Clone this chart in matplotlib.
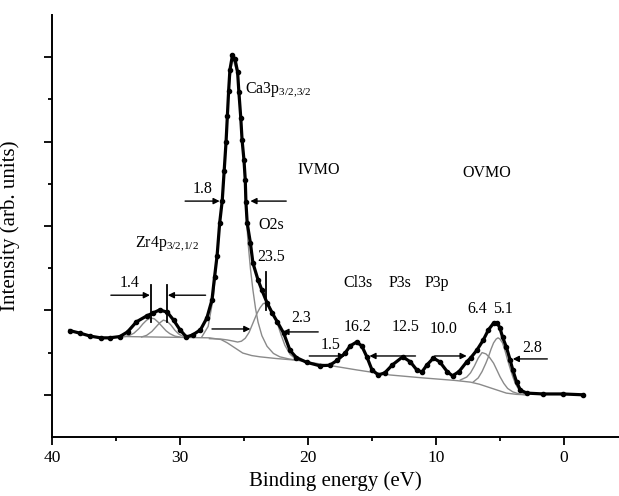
import matplotlib
matplotlib.use("Agg")
import matplotlib.pyplot as plt
from matplotlib.ticker import MultipleLocator

plt.rcParams['font.family'] = ['Liberation Serif', 'DejaVu Serif']
plt.rcParams['mathtext.fontset'] = 'custom'
plt.rcParams['mathtext.rm'] = 'Liberation Serif'
plt.rcParams['mathtext.it'] = 'Liberation Serif'

# ---- data (binding energy in eV, intensity in arb. units) ----
data_x = [38.6, 37.8, 37.0, 36.2, 35.5, 34.7, 34.1, 33.4, 32.6, 32.1, 31.6, 31.0, 30.5,
          30.0, 29.5, 29.0, 28.4, 27.9, 27.5, 27.3, 27.1, 26.9, 26.7, 26.55, 26.4, 26.3,
          26.2, 26.1, 25.9, 25.7, 25.5, 25.4, 25.25, 25.15, 25.0, 24.9, 24.85, 24.75, 24.5,
          24.3, 23.9, 23.6, 23.2, 22.8, 22.4, 21.9, 21.4, 20.9, 20.1, 19.1, 18.3, 17.7,
          17.1, 16.7, 16.2, 15.8, 15.4, 15.0, 14.5, 14.0, 13.4, 12.6, 12.0, 11.5, 11.1,
          10.7, 10.2, 9.7, 9.1, 8.7, 8.2, 7.6, 7.3, 6.8, 6.3, 5.9, 5.5, 5.2, 5.0, 4.8,
          4.5, 4.2, 4.0, 3.7, 3.4, 2.9, 1.6, 0.1, -1.5]
data_y = [2.52, 2.46, 2.39, 2.35, 2.35, 2.38, 2.49, 2.73, 2.87, 2.94, 3.01, 2.96, 2.77,
          2.54, 2.37, 2.42, 2.54, 2.82, 3.25, 3.79, 4.30, 5.07, 5.60, 6.30, 7.00, 7.60,
          8.20, 8.70, 9.05, 8.95, 8.65, 8.18, 7.56, 7.04, 6.56, 6.09, 5.57, 5.07, 4.60,
          4.12, 3.72, 3.48, 3.18, 2.94, 2.73, 2.46, 2.05, 1.88, 1.77, 1.69, 1.70, 1.82,
          1.99, 2.16, 2.25, 2.16, 1.90, 1.59, 1.47, 1.52, 1.71, 1.90, 1.78, 1.59, 1.54,
          1.71, 1.87, 1.78, 1.54, 1.45, 1.55, 1.78, 1.87, 2.06, 2.30, 2.54, 2.70, 2.70, 2.58,
          2.37, 2.13, 1.82, 1.59, 1.30, 1.11, 1.04, 1.02, 1.02, 1.00]

bg_x = [34.3, 27.7, 26.8, 26.3, 25.7, 25.1, 24.4, 23.75, 22.5, 20.9, 18.0, 16.2, 13.6,
        11.0, 8.5, 7.3, 6.6, 6.0, 5.2, 4.5, 3.7, 2.9]
bg_y = [2.38, 2.35, 2.31, 2.23, 2.11, 1.99, 1.93, 1.90, 1.86, 1.82, 1.68, 1.59, 1.47,
        1.40, 1.34, 1.30, 1.25, 1.19, 1.11, 1.04, 1.01, 1.00]

zr1_x = [34.5, 34.0, 33.6, 33.2, 32.9, 32.6, 32.3, 32.0, 31.7, 31.4, 31.1, 30.8, 30.4, 30.0]
zr1_y = [2.37, 2.40, 2.46, 2.57, 2.68, 2.77, 2.82, 2.80, 2.72, 2.62, 2.52, 2.45, 2.39, 2.37]
zr2_x = [33.0, 32.6, 32.2, 31.9, 31.6, 31.3, 31.0, 30.7, 30.4, 30.1, 29.8, 29.4]
zr2_y = [2.37, 2.41, 2.50, 2.60, 2.70, 2.77, 2.74, 2.65, 2.53, 2.44, 2.39, 2.37]

ca_x = [28.3, 27.8, 27.4, 27.1, 26.9, 26.7, 26.55, 26.4, 26.2, 25.9, 25.5, 25.25, 25.0,
        24.85, 24.7, 24.5, 24.3, 24.1, 23.9, 23.6, 23.2, 22.7, 22.2, 21.5, 20.9]
ca_y = [2.37, 2.62, 3.30, 4.30, 5.07, 5.60, 6.30, 7.00, 8.20, 9.00, 8.60, 7.50, 6.50,
        5.50, 4.67, 4.00, 3.48, 3.05, 2.72, 2.40, 2.15, 1.98, 1.90, 1.85, 1.82]

o2s_x = [27.7, 26.8, 26.3, 25.8, 25.5, 25.2, 24.9, 24.6, 24.3, 24.0, 23.75, 23.5, 23.3,
         23.0, 22.7, 22.4, 22.1, 21.8, 21.4, 21.0, 20.5]
o2s_y = [2.33, 2.32, 2.30, 2.27, 2.25, 2.27, 2.34, 2.48, 2.70, 2.92, 3.06, 3.16, 3.18,
         3.10, 2.93, 2.70, 2.42, 2.17, 1.96, 1.86, 1.83]

ov1_x = [8.1, 7.6, 7.3, 7.0, 6.7, 6.4, 6.1, 5.8, 5.5, 5.2, 5.0, 4.7, 4.4, 4.0, 3.5, 3.0]
ov1_y = [1.35, 1.42, 1.52, 1.68, 1.87, 2.00, 1.97, 1.88, 1.75, 1.56, 1.43, 1.27, 1.15,
         1.07, 1.02, 1.00]
ov2_x = [7.1, 6.7, 6.4, 6.1, 5.9, 5.7, 5.5, 5.3, 5.15, 5.0, 4.8, 4.6, 4.4, 4.2, 4.0, 3.8,
         3.6, 3.3, 2.9]
ov2_y = [1.30, 1.40, 1.55, 1.75, 1.90, 2.08, 2.23, 2.32, 2.35, 2.32, 2.23, 2.04, 1.82,
         1.62, 1.43, 1.27, 1.16, 1.05, 1.00]

x_ticks = [40, 30, 20, 10, 0]
x_ticklabels = ['40', '30', '20', '10', '0']

# ---- figure ----
fig = plt.figure(figsize=(6.19, 4.96), dpi=100)
ax = fig.add_axes([52 / 619, 59 / 496, (619 - 52) / 619, (437 - 15) / 496])

gray = '#8a8a8a'
for cx, cy in [(bg_x, bg_y), (zr1_x, zr1_y), (zr2_x, zr2_y), (ca_x, ca_y),
               (o2s_x, o2s_y), (ov1_x, ov1_y), (ov2_x, ov2_y)]:
    ax.plot(cx, cy, color=gray, lw=1.0, zorder=2)

ax.plot(data_x, data_y, color='black', lw=2.3, marker='o', ms=3.0, zorder=3)

ax.set_xlim(40, -4.3)
ax.set_ylim(0, 10)
ax.spines['top'].set_visible(False)
ax.spines['right'].set_visible(False)
ax.spines['left'].set_linewidth(1.4)
ax.spines['bottom'].set_linewidth(1.4)

ax.set_xticks(x_ticks)
ax.set_xticklabels(x_ticklabels)
ax.xaxis.set_minor_locator(MultipleLocator(5))
ax.set_yticks([1, 3, 5, 7, 9])
ax.set_yticks([2, 4, 6, 8], minor=True)
ax.set_yticklabels([])
ax.tick_params(axis='both', which='major', direction='out', length=6, width=1.3,
               labelsize=12.5, pad=3)
ax.tick_params(axis='both', which='minor', direction='out', length=3, width=1.3)

ax.set_xlabel('Binding energy (eV)', fontsize=15, labelpad=4)
ax.set_ylabel('Intensity (arb. units)', fontsize=15, labelpad=14)

fs = 11.5
ax.text(24.9, 8.15, r'Ca3p$_{\mathrm{3/2{,}3/2}}$', fontsize=fs, ha='left', va='baseline')
ax.text(33.5, 4.5, r'Zr4p$_{\mathrm{3/2{,}1/2}}$', fontsize=fs, ha='left', va='baseline')
ax.text(20.86, 6.33, 'IVMO', fontsize=fs, ha='left', va='center')
ax.text(7.9, 6.26, 'OVMO', fontsize=fs, ha='left', va='center')
ax.text(28.2, 5.88, '1.8', fontsize=fs, ha='center', va='center')
ax.text(22.9, 5.02, 'O2s', fontsize=fs, ha='center', va='center')
ax.text(22.9, 4.27, '23.5', fontsize=fs, ha='center', va='center')
ax.text(33.9, 3.65, '1.4', fontsize=fs, ha='center', va='center')
ax.text(20.5, 2.82, '2.3', fontsize=fs, ha='center', va='center')
ax.text(18.2, 2.18, '1.5', fontsize=fs, ha='center', va='center')
ax.text(16.1, 2.60, '16.2', fontsize=fs, ha='center', va='center')
ax.text(12.4, 2.60, '12.5', fontsize=fs, ha='center', va='center')
ax.text(9.4, 2.56, '10.0', fontsize=fs, ha='center', va='center')
ax.text(16.1, 3.55, 'Cl3s', fontsize=fs, ha='center', va='baseline')
ax.text(12.8, 3.55, 'P3s', fontsize=fs, ha='center', va='baseline')
ax.text(9.9, 3.55, 'P3p', fontsize=fs, ha='center', va='baseline')
ax.text(6.8, 3.03, '6.4', fontsize=fs, ha='center', va='center')
ax.text(4.8, 3.03, '5.1', fontsize=fs, ha='center', va='center')
ax.text(2.5, 2.11, '2.8', fontsize=fs, ha='center', va='center')

arrows = [((29.6, 5.59), (26.9, 5.59)), ((21.7, 5.59), (24.5, 5.59)),
          ((35.4, 3.36), (32.35, 3.36)), ((28.0, 3.36), (30.95, 3.36)),
          ((27.5, 2.56), (24.5, 2.56)), ((19.2, 2.49), (22.0, 2.49)),
          ((19.9, 1.92), (17.1, 1.92)), ((11.6, 1.92), (15.2, 1.92)),
          ((10.1, 1.92), (7.6, 1.92)), ((1.3, 1.85), (4.0, 1.85))]
for tail, head in arrows:
    ax.annotate('', xy=head, xytext=tail,
                arrowprops=dict(arrowstyle='-|>', color='black', lw=1.0,
                                mutation_scale=9, shrinkA=0, shrinkB=0), zorder=4)

for vx, y0, y1 in [(32.3, 2.73, 3.6), (31.0, 2.73, 3.6), (23.3, 3.0, 3.91)]:
    ax.plot([vx, vx], [y0, y1], color='black', lw=1.3, zorder=4)

fig.savefig('out.png', dpi=100)
